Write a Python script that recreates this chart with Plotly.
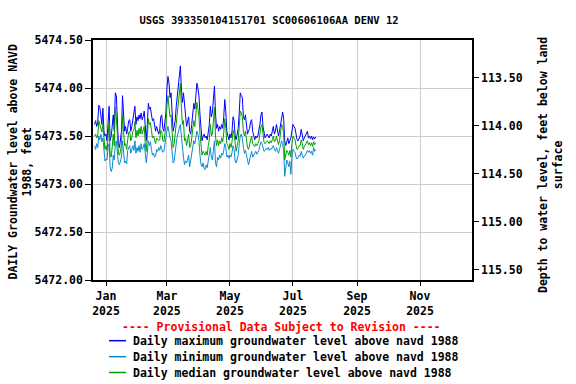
import plotly.graph_objects as go
import pandas as pd

start_date = "2024-12-21"

daily_max = [
    5473.62, 5473.66, 5473.60, 5473.64, 5473.82, 5473.80, 5473.72, 5473.62, 5473.79, 5473.55,
    5473.50, 5473.52, 5473.45, 5473.60, 5473.81, 5473.45, 5473.50, 5473.60, 5473.72, 5473.55,
    5473.95, 5473.92, 5473.60, 5473.42, 5473.38, 5473.45, 5473.55, 5473.92, 5473.75, 5473.55,
    5473.60, 5473.52, 5473.58, 5473.66, 5473.67, 5473.55, 5473.60, 5473.66, 5473.72, 5473.81,
    5473.62, 5473.70, 5473.66, 5473.72, 5473.68, 5473.74, 5473.67, 5473.70, 5473.76, 5473.55,
    5473.45, 5473.62, 5473.84, 5473.78, 5473.80, 5473.72, 5473.66, 5473.68, 5473.62, 5473.55,
    5473.60, 5473.57, 5473.52, 5473.56, 5473.70, 5473.72, 5473.58, 5473.55, 5473.62, 5473.74,
    5474.00, 5474.12, 5474.05, 5473.90, 5473.95, 5473.70, 5473.55, 5473.60, 5473.66, 5473.81,
    5473.90, 5474.05, 5474.12, 5474.23, 5474.00, 5473.85, 5473.95, 5473.78, 5473.72, 5473.60,
    5473.66, 5473.70, 5473.55, 5473.52, 5473.62, 5473.72, 5473.84, 5473.78, 5473.90, 5474.05,
    5474.00, 5473.92, 5473.72, 5473.55, 5473.45, 5473.50, 5473.52, 5473.48, 5473.50, 5473.46,
    5473.55, 5473.62, 5473.81, 5473.70, 5473.75, 5473.92, 5474.02, 5473.74, 5473.58, 5473.62,
    5473.55, 5473.60, 5473.57, 5473.62, 5473.58, 5473.70, 5473.88, 5473.75, 5473.55, 5473.50,
    5473.46, 5473.52, 5473.48, 5473.55, 5473.70, 5473.66, 5473.50, 5473.46, 5473.52, 5473.58,
    5473.75, 5473.95, 5473.92, 5473.90, 5473.70, 5473.67, 5473.72, 5473.60, 5473.52, 5473.55,
    5473.58, 5473.65, 5473.67, 5473.55, 5473.50, 5473.46, 5473.50, 5473.48, 5473.50, 5473.55,
    5473.62, 5473.72, 5473.75, 5473.60, 5473.52, 5473.48, 5473.50, 5473.52, 5473.50, 5473.48,
    5473.52, 5473.50, 5473.55, 5473.60, 5473.52, 5473.55, 5473.62, 5473.55, 5473.50, 5473.55,
    5473.62, 5473.72, 5473.75, 5473.68, 5473.45, 5473.40, 5473.45, 5473.48, 5473.42, 5473.45,
    5473.48, 5473.55, 5473.62, 5473.60, 5473.58, 5473.52, 5473.46, 5473.45, 5473.48, 5473.50,
    5473.57, 5473.52, 5473.45, 5473.48, 5473.50, 5473.52, 5473.55, 5473.48, 5473.50, 5473.47,
    5473.50, 5473.46, 5473.49, 5473.47, 5473.49,
]

daily_min = [
    5473.40, 5473.36, 5473.42, 5473.38, 5473.50, 5473.46, 5473.52, 5473.44, 5473.48, 5473.30,
    5473.24, 5473.26, 5473.25, 5473.38, 5473.42, 5473.18, 5473.13, 5473.16, 5473.30, 5473.25,
    5473.42, 5473.45, 5473.30, 5473.22, 5473.20, 5473.23, 5473.28, 5473.45, 5473.30, 5473.22,
    5473.24, 5473.21, 5473.35, 5473.38, 5473.40, 5473.32, 5473.36, 5473.40, 5473.35, 5473.45,
    5473.32, 5473.38, 5473.34, 5473.40, 5473.33, 5473.42, 5473.36, 5473.38, 5473.42, 5473.30,
    5473.22, 5473.32, 5473.45, 5473.40, 5473.44, 5473.36, 5473.30, 5473.32, 5473.28, 5473.29,
    5473.36, 5473.34, 5473.38, 5473.35, 5473.40, 5473.36, 5473.33, 5473.34, 5473.42, 5473.46,
    5473.55, 5473.60, 5473.52, 5473.48, 5473.45, 5473.30, 5473.22, 5473.24, 5473.38, 5473.42,
    5473.50, 5473.55, 5473.60, 5473.62, 5473.50, 5473.35, 5473.28, 5473.20, 5473.24, 5473.22,
    5473.28, 5473.30, 5473.18, 5473.26, 5473.32, 5473.38, 5473.45, 5473.42, 5473.48, 5473.55,
    5473.52, 5473.45, 5473.30, 5473.20, 5473.18, 5473.22, 5473.16, 5473.15, 5473.20, 5473.17,
    5473.24, 5473.30, 5473.38, 5473.28, 5473.25, 5473.35, 5473.45, 5473.22, 5473.18, 5473.28,
    5473.25, 5473.30, 5473.27, 5473.32, 5473.30, 5473.35, 5473.42, 5473.38, 5473.28, 5473.30,
    5473.27, 5473.30, 5473.28, 5473.33, 5473.40, 5473.36, 5473.24, 5473.22, 5473.26, 5473.30,
    5473.42, 5473.50, 5473.52, 5473.48, 5473.38, 5473.32, 5473.35, 5473.30, 5473.22, 5473.20,
    5473.25, 5473.30, 5473.34, 5473.28, 5473.30, 5473.32, 5473.34, 5473.31, 5473.33, 5473.35,
    5473.40, 5473.44, 5473.42, 5473.36, 5473.34, 5473.35, 5473.37, 5473.36, 5473.38, 5473.35,
    5473.37, 5473.36, 5473.38, 5473.40, 5473.36, 5473.34, 5473.38, 5473.35, 5473.32, 5473.36,
    5473.40, 5473.45, 5473.42, 5473.35, 5473.08, 5473.20, 5473.25, 5473.22, 5473.18, 5473.24,
    5473.10, 5473.28, 5473.36, 5473.34, 5473.33, 5473.28, 5473.26, 5473.28, 5473.30, 5473.29,
    5473.34, 5473.30, 5473.27, 5473.29, 5473.30, 5473.32, 5473.35, 5473.33, 5473.35, 5473.32,
    5473.34, 5473.30, 5473.38, 5473.34, 5473.36,
]

daily_median = [
    5473.50, 5473.52, 5473.48, 5473.50, 5473.66, 5473.62, 5473.60, 5473.54, 5473.62, 5473.42,
    5473.36, 5473.40, 5473.35, 5473.48, 5473.65, 5473.30, 5473.28, 5473.38, 5473.52, 5473.40,
    5473.80, 5473.70, 5473.45, 5473.32, 5473.30, 5473.34, 5473.42, 5473.72, 5473.55, 5473.40,
    5473.42, 5473.36, 5473.46, 5473.54, 5473.55, 5473.45, 5473.48, 5473.55, 5473.56, 5473.65,
    5473.48, 5473.56, 5473.50, 5473.58, 5473.52, 5473.60, 5473.52, 5473.56, 5473.60, 5473.42,
    5473.34, 5473.48, 5473.68, 5473.62, 5473.64, 5473.56, 5473.48, 5473.50, 5473.44, 5473.42,
    5473.48, 5473.46, 5473.45, 5473.46, 5473.56, 5473.55, 5473.45, 5473.44, 5473.52, 5473.60,
    5473.82, 5473.92, 5473.80, 5473.70, 5473.72, 5473.50, 5473.38, 5473.42, 5473.52, 5473.62,
    5473.72, 5473.85, 5473.95, 5474.05, 5473.80, 5473.62, 5473.66, 5473.45, 5473.48, 5473.40,
    5473.46, 5473.52, 5473.38, 5473.40, 5473.48, 5473.56, 5473.66, 5473.60, 5473.70, 5473.85,
    5473.78, 5473.70, 5473.52, 5473.38, 5473.30, 5473.34, 5473.32, 5473.30, 5473.34, 5473.30,
    5473.40, 5473.46, 5473.62, 5473.50, 5473.52, 5473.70, 5473.80, 5473.50, 5473.40, 5473.46,
    5473.40, 5473.45, 5473.42, 5473.48, 5473.44, 5473.54, 5473.68, 5473.58, 5473.42, 5473.40,
    5473.36, 5473.42, 5473.38, 5473.44, 5473.56, 5473.52, 5473.38, 5473.34, 5473.40, 5473.45,
    5473.60, 5473.76, 5473.74, 5473.70, 5473.55, 5473.50, 5473.55, 5473.45, 5473.38, 5473.36,
    5473.42, 5473.48, 5473.50, 5473.42, 5473.40, 5473.39, 5473.42, 5473.40, 5473.42, 5473.45,
    5473.52, 5473.60, 5473.62, 5473.48, 5473.43, 5473.42, 5473.44, 5473.45, 5473.44, 5473.42,
    5473.45, 5473.43, 5473.46, 5473.50, 5473.44, 5473.45, 5473.50, 5473.46, 5473.41, 5473.45,
    5473.52, 5473.62, 5473.60, 5473.52, 5473.25, 5473.30, 5473.35, 5473.33, 5473.30, 5473.35,
    5473.28, 5473.42, 5473.50, 5473.48, 5473.46, 5473.40, 5473.36, 5473.37, 5473.40, 5473.40,
    5473.46, 5473.42, 5473.36, 5473.39, 5473.41, 5473.42, 5473.45, 5473.41, 5473.43, 5473.40,
    5473.43, 5473.39, 5473.44, 5473.41, 5473.43,
]

series_names = [
    "Daily maximum groundwater level above navd 1988",
    "Daily minimum groundwater level above navd 1988",
    "Daily median groundwater level above navd 1988",
]
series_colors = ["#0000ff", "#0a8ad2", "#00a000"]

land_surface = 5587.605
x_range = ["2024-12-19 10:00", "2025-12-21 08:00"]
tick_dates = ["2025-01-01", "2025-03-01", "2025-05-01", "2025-07-01", "2025-09-01", "2025-11-01"]
tick_text = ["Jan<br>2025", "Mar<br>2025", "May<br>2025", "Jul<br>2025", "Sep<br>2025", "Nov<br>2025"]
left_ticks = [5472.0, 5472.5, 5473.0, 5473.5, 5474.0, 5474.5]
right_ticks = [113.5, 114.0, 114.5, 115.0, 115.5]

n = min(len(daily_max), len(daily_min), len(daily_median))
dates = pd.date_range(start_date, periods=n, freq="D")

FONT = "DejaVu Sans Mono"
FS = 11.5

# plot area in pixels
L, R, T, B = 93, 472, 40, 280
W = R - L
H = B - T


def px_x(x):
    return (x - L) / W


def px_y(y):
    return (B - y) / H


fig = go.Figure()
for vals, name, col in zip([daily_max, daily_min, daily_median], series_names, series_colors):
    fig.add_trace(go.Scatter(x=dates, y=vals[:n], mode="lines",
                             line=dict(color=col, width=1), name=name,
                             showlegend=False))
# depth axis carrier (invisible)
fig.add_trace(go.Scatter(x=[dates[0]], y=[land_surface - daily_median[0]], mode="markers",
                         marker=dict(opacity=0), yaxis="y2", showlegend=False,
                         hoverinfo="skip"))

annotations = [
    dict(text="---- Provisional Data Subject to Revision ----",
         x=px_x(281.5), y=px_y(326.7), xref="paper", yref="paper",
         xanchor="center", yanchor="middle", showarrow=False,
         font=dict(family=FONT, size=FS, color="red", weight="bold")),
    dict(text="DAILY Groundwater level above NAVD<br>1988, feet",
         x=px_x(19.5), y=px_y(162), xref="paper", yref="paper",
         xanchor="center", yanchor="middle", showarrow=False, textangle=-90,
         font=dict(family=FONT, size=FS, color="black", weight="bold")),
    dict(text="Depth to water level, feet below land<br>surface",
         x=px_x(550), y=px_y(165), xref="paper", yref="paper",
         xanchor="center", yanchor="middle", showarrow=False, textangle=-90,
         font=dict(family=FONT, size=FS, color="black", weight="bold")),
]
shapes = []
legend_rows = [340.7, 356.7, 372.5]
for name, col, ry in zip(series_names, series_colors, legend_rows):
    shapes.append(dict(type="line", xref="paper", yref="paper",
                       x0=px_x(109), x1=px_x(126), y0=px_y(ry), y1=px_y(ry),
                       line=dict(color=col, width=1.5)))
    annotations.append(dict(text=name, x=px_x(130.5), y=px_y(ry),
                            xref="paper", yref="paper", xanchor="left",
                            yanchor="middle", showarrow=False,
                            font=dict(family=FONT, size=FS, color="black", weight="bold")))

fig.update_layout(
    width=576, height=384,
    margin=dict(l=L, r=576 - R, t=T, b=384 - B, autoexpand=False),
    paper_bgcolor="white", plot_bgcolor="white",
    font=dict(family=FONT, size=FS, color="black", weight="bold"),
    title=dict(text="USGS 393350104151701 SC00606106AA DENV 12",
               x=269 / 576, xanchor="center", y=0.948, yanchor="middle",
               font=dict(family=FONT, size=10.5, color="black", weight="bold")),
    xaxis=dict(range=x_range, tickvals=tick_dates, ticktext=tick_text,
               showgrid=True, gridcolor="#cccccc", gridwidth=1,
               showline=True, linecolor="black", linewidth=1.5, mirror=True,
               ticks="outside", ticklen=4, tickcolor="black", zeroline=False,
               automargin=False),
    yaxis=dict(range=[5472.0, 5474.5], tickvals=left_ticks, tickformat=".2f",
               showgrid=True, gridcolor="#cccccc", gridwidth=1,
               showline=True, linecolor="black", linewidth=1.5, mirror=True,
               ticks="outside", ticklen=6, tickcolor="black", zeroline=False,
               automargin=False),
    yaxis2=dict(range=[land_surface - 5472.0, land_surface - 5474.5],
                tickvals=right_ticks, tickformat=".2f",
                overlaying="y", side="right", anchor="x",
                showgrid=False, showline=True, linecolor="black", linewidth=1.5,
                ticks="outside", ticklen=5, tickcolor="black", zeroline=False,
                automargin=False),
    showlegend=False,
    annotations=annotations,
    shapes=shapes,
)

fig.write_html("out.html",
               config={"displayModeBar": False},
               post_script="document.body.style.margin='0';document.body.style.overflow='hidden';")
